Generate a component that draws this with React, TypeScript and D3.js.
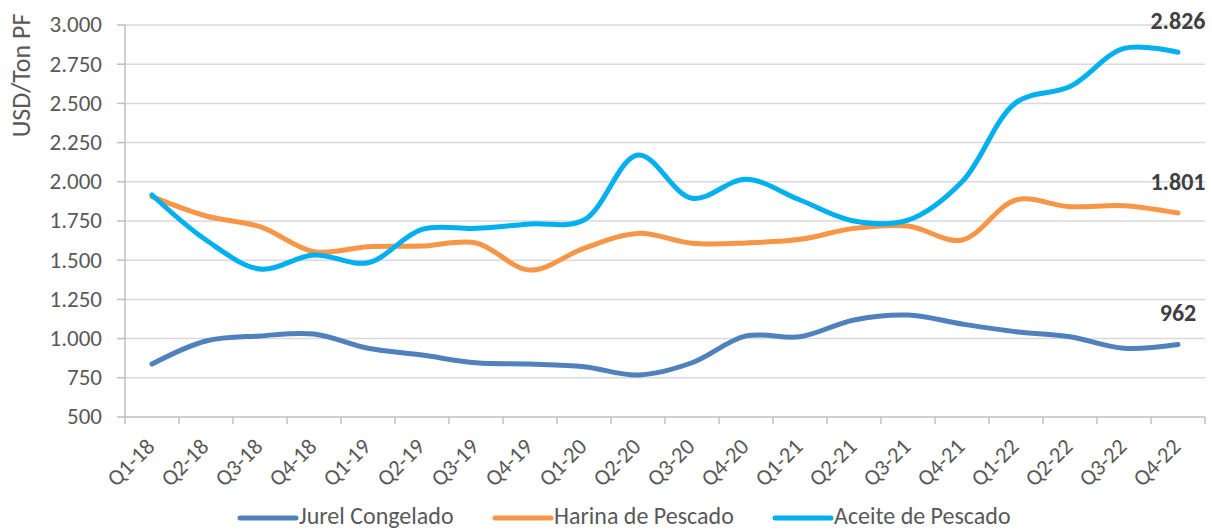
import React from "react";
import * as d3 from "d3";

const quarters = [
  "Q1-18", "Q2-18", "Q3-18", "Q4-18",
  "Q1-19", "Q2-19", "Q3-19", "Q4-19",
  "Q1-20", "Q2-20", "Q3-20", "Q4-20",
  "Q1-21", "Q2-21", "Q3-21", "Q4-21",
  "Q1-22", "Q2-22", "Q3-22", "Q4-22",
];

const jurel = [838, 985, 1017, 1029, 938, 895, 846, 838, 821, 768, 846, 1017, 1012, 1119, 1150, 1093, 1044, 1012, 938, 962];
const harina = [1905, 1782, 1714, 1554, 1586, 1590, 1610, 1437, 1576, 1671, 1608, 1610, 1633, 1703, 1718, 1629, 1884, 1841, 1848, 1801];
const aceite = [1916, 1629, 1444, 1533, 1484, 1697, 1703, 1731, 1756, 2171, 1895, 2016, 1884, 1750, 1755, 2000, 2505, 2607, 2851, 2826];

const yTicks = [500, 750, 1000, 1250, 1500, 1750, 2000, 2250, 2500, 2750, 3000];

const series = [
  { name: "Jurel Congelado", values: jurel, color: "#4F81BD", legendX: 240 },
  { name: "Harina de Pescado", values: harina, color: "#F79646", legendX: 495 },
  { name: "Aceite de Pescado", values: aceite, color: "#00B0F0", legendX: 775 },
];

const W = 1212;
const H = 529;
const margin = { left: 125, right: 7, top: 25, bottom: 112 };
const font = "Carlito, Calibri, 'Liberation Sans', sans-serif";
const textColor = "#595959";

const locale = d3.formatLocale({ decimal: ",", thousands: ".", grouping: [3], currency: ["", ""] });
const fmt = locale.format(",.0f");

export default function App() {
  const x = d3.scaleBand<string>()
    .domain(quarters)
    .range([margin.left, W - margin.right])
    .padding(0);
  const y = d3.scaleLinear().domain([500, 3000]).range([H - margin.bottom, margin.top]);

  const cx = (q: string) => (x(q) as number) + x.bandwidth() / 2;

  const line = d3.line<number>()
    .x((d, i) => cx(quarters[i]))
    .y(d => y(d))
    .curve(d3.curveCatmullRom.alpha(0.5));

  const bottom = y(500);

  return (
    <svg width={W} height={H} style={{ position: "absolute", left: 0, top: 0, background: "#fff" }}>
      {/* grid + y axis ticks */}
      {yTicks.map(t => (
        <g key={t}>
          {t > 500 && (
            <line x1={margin.left} x2={W - margin.right} y1={y(t)} y2={y(t)} stroke="#d9d9d9" strokeWidth={1.5} />
          )}
          <line x1={margin.left - 8} x2={margin.left} y1={y(t)} y2={y(t)} stroke="#bfbfbf" strokeWidth={1.5} />
          <text x={102} y={y(t) + 7.4} textAnchor="end" fontFamily={font} fontSize={23} fill={textColor}>
            {fmt(t)}
          </text>
        </g>
      ))}
      {/* axes */}
      <line x1={margin.left} x2={margin.left} y1={margin.top} y2={bottom} stroke="#bfbfbf" strokeWidth={1.5} />
      <line x1={margin.left} x2={W - margin.right} y1={bottom} y2={bottom} stroke="#bfbfbf" strokeWidth={1.5} />
      {quarters.map(q => (
        <line key={"t" + q} x1={x(q)} x2={x(q)} y1={bottom} y2={bottom + 7} stroke="#bfbfbf" strokeWidth={1.5} />
      ))}
      <line x1={W - margin.right} x2={W - margin.right} y1={bottom} y2={bottom + 7} stroke="#bfbfbf" strokeWidth={1.5} />
      {quarters.map(q => (
        <text key={"l" + q} transform={`translate(${cx(q) + 4},${bottom + 31}) rotate(-45)`}
          textAnchor="end" fontFamily={font} fontSize={22.5} fill={textColor}>
          {q}
        </text>
      ))}
      {/* y title */}
      <text transform={`translate(30,75.5) rotate(-90)`} textAnchor="middle" fontFamily={font} fontSize={26} fill={textColor}>
        USD/Ton PF
      </text>
      {/* lines */}
      {series.map(s => (
        <path key={s.name} d={line(s.values) || ""} fill="none" stroke={s.color} strokeWidth={5}
          strokeLinecap="round" strokeLinejoin="round" />
      ))}
      {/* end labels */}
      {series.map(s => {
        const last = s.values[s.values.length - 1];
        return (
          <text key={"e" + s.name} x={cx(quarters[quarters.length - 1])} y={y(last) - 23.5}
            textAnchor="middle" fontFamily={font} fontWeight="bold" fontSize={24} fill="#404040">
            {fmt(last)}
          </text>
        );
      })}
      {/* legend */}
      {series.map(s => (
        <g key={"lg" + s.name}>
          <line x1={s.legendX} x2={s.legendX + 56} y1={518} y2={518} stroke={s.color} strokeWidth={5} strokeLinecap="round" />
          <text x={s.legendX + 59} y={524} fontFamily={font} fontSize={24} fill={textColor}>
            {s.name}
          </text>
        </g>
      ))}
    </svg>
  );
}
